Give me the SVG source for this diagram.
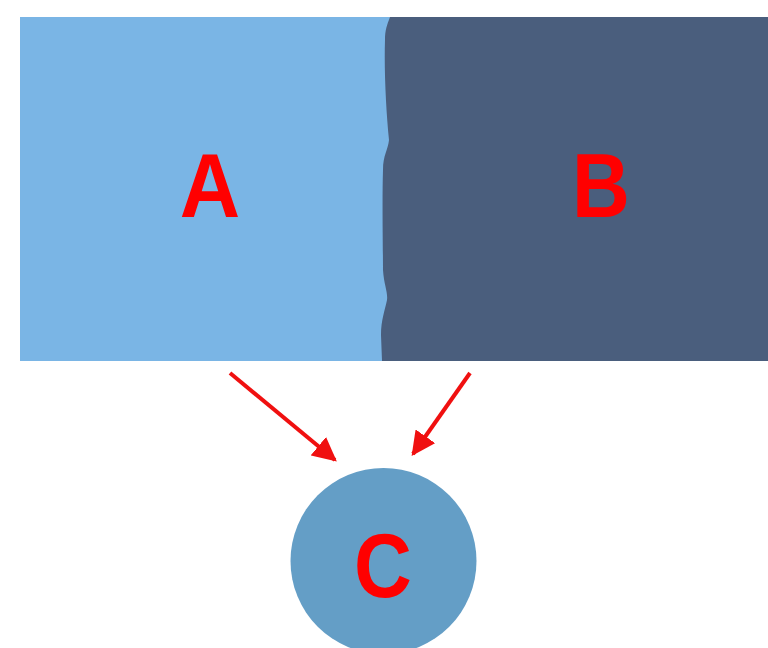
<svg xmlns="http://www.w3.org/2000/svg" width="768" height="648" viewBox="0 0 768 648">
<style>
.lbl{font-family:"Liberation Sans",Arial,sans-serif;font-weight:bold;font-size:91px;fill:#FF0000;text-anchor:middle}
.arrow{stroke:#F01010;stroke-width:4;fill:none}
</style>
<defs>
<marker id="ah" viewBox="0 0 10 10" refX="9" refY="5" markerWidth="6" markerHeight="6" markerUnits="strokeWidth" orient="auto">
<path d="M0,0 L10,5 L0,10 Z" fill="#F01010"/>
</marker>
</defs>
<rect width="768" height="648" fill="#FFFFFF"/>
<g id="nodeB">
<rect x="370" y="17" width="398" height="344" fill="#4A5E7D"/>
<text class="lbl" transform="translate(601,217) scale(0.88,1)">B</text>
</g>
<g id="nodeA">
<path d="M20,17 L390,17 C387,25 385,30 385,40 C384,70 386,110 389,140 C388,150 383,155 383,170 C382,200 383,250 383,270 C384,285 388,292 387,300 C385,310 381,320 381,335 L382,361 L20,361 Z" fill="#7AB5E5"/>
<text class="lbl" transform="translate(210,217) scale(0.92,1)">A</text>
</g>
<g id="nodeC">
<circle cx="383.5" cy="561" r="93" fill="#649EC6"/>
<text class="lbl" transform="translate(383,597) scale(0.88,1)">C</text>
</g>
<g id="connectors">
<line class="arrow" x1="230" y1="373" x2="335" y2="460" marker-end="url(#ah)"/>
<line class="arrow" x1="470" y1="373" x2="413" y2="454" marker-end="url(#ah)"/>
</g>
</svg>
